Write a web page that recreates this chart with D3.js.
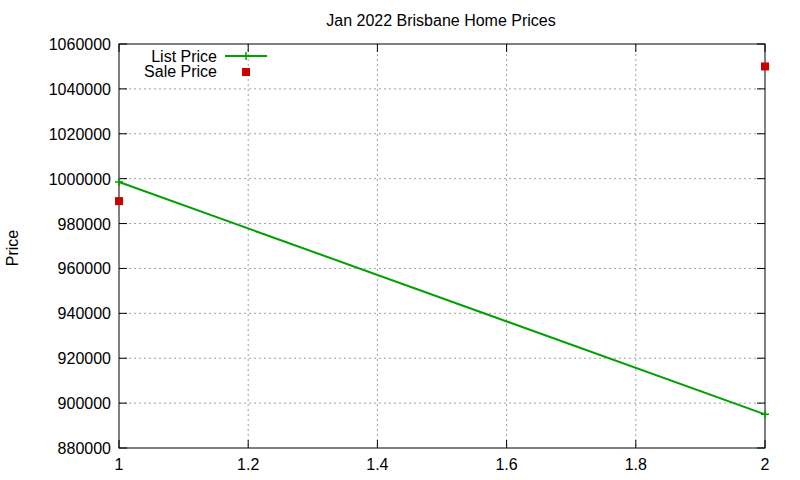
<!DOCTYPE html>
<html><head><meta charset="utf-8">
<script src="https://cdn.jsdelivr.net/npm/d3@7"></script>
<style>body{margin:0;background:#fff}text{font-family:"Liberation Sans",Arial,sans-serif;font-size:16px}</style>
</head><body><svg id="c" width="800" height="480"></svg>
<script>
const listX = [1, 2];
const listPrice = [998500, 895000];
const saleX = [1, 2];
const salePrice = [990000, 1050000];
const yTicks = [880000,900000,920000,940000,960000,980000,1000000,1020000,1040000,1060000];
const xTicks = [1,1.2,1.4,1.6,1.8,2];

const svg = d3.select("#c");
const L=119,R=765,T=44,B=448;
const x = d3.scaleLinear().domain([1,2]).range([L,R]);
const y = d3.scaleLinear().domain([880000,1060000]).range([B,T]);

const g = svg.append("g");
g.selectAll(".gx").data(xTicks.slice(1,-1)).join("line")
 .attr("x1",d=>x(d)).attr("x2",d=>x(d)).attr("y1",T).attr("y2",B)
 .attr("stroke","#a0a0a0").attr("stroke-dasharray","2,3");
g.selectAll(".gy").data(yTicks.slice(1,-1)).join("line")
 .attr("y1",d=>y(d)).attr("y2",d=>y(d)).attr("x1",L).attr("x2",R)
 .attr("stroke","#a0a0a0").attr("stroke-dasharray","2,3");
const tk=g.append("g").attr("stroke","#000");
yTicks.forEach(v=>{tk.append("line").attr("x1",L).attr("x2",L+8).attr("y1",y(v)).attr("y2",y(v));
 tk.append("line").attr("x1",R).attr("x2",R-8).attr("y1",y(v)).attr("y2",y(v));});
xTicks.forEach(v=>{tk.append("line").attr("x1",x(v)).attr("x2",x(v)).attr("y1",B).attr("y2",B-8);
 tk.append("line").attr("x1",x(v)).attr("x2",x(v)).attr("y1",T).attr("y2",T+8);});
g.append("rect").attr("x",L).attr("y",T).attr("width",R-L).attr("height",B-T).attr("fill","none").attr("stroke","#000");
g.selectAll(".yl").data(yTicks).join("text").attr("x",L-8).attr("y",d=>y(d)+6).attr("text-anchor","end").text(d=>d);
g.selectAll(".xl").data(xTicks).join("text").attr("x",d=>x(d)).attr("y",B+22).attr("text-anchor","middle").text(d=>d);
svg.append("text").attr("x",441).attr("y",26).attr("text-anchor","middle").text("Jan 2022 Brisbane Home Prices");
svg.append("text").attr("transform","translate(18,248) rotate(-90)").attr("text-anchor","middle").text("Price");
const pts = listX.map((d,i)=>[d,listPrice[i]]);
g.append("path").attr("d",d3.line().x(d=>x(d[0])).y(d=>y(d[1]))(pts)).attr("stroke","#00a000").attr("stroke-width",2).attr("fill","none");
const plus=(cx,cy)=>{g.append("path").attr("d",`M${cx-4},${cy}H${cx+4}M${cx},${cy-4}V${cy+4}`).attr("stroke","#00a000").attr("stroke-width",1.5);};
pts.forEach(p=>plus(x(p[0]),y(p[1])));
g.selectAll(".s").data(saleX.map((d,i)=>[d,salePrice[i]])).join("rect")
 .attr("x",d=>x(d[0])-4).attr("y",d=>y(d[1])-4).attr("width",8).attr("height",8).attr("fill","#cc0000");
svg.append("text").attr("x",217).attr("y",62).attr("text-anchor","end").text("List Price");
svg.append("line").attr("x1",225).attr("x2",267).attr("y1",56).attr("y2",56).attr("stroke","#00a000").attr("stroke-width",2);
plus(246,56);
svg.append("text").attr("x",217).attr("y",77).attr("text-anchor","end").text("Sale Price");
svg.append("rect").attr("x",242).attr("y",68).attr("width",8).attr("height",8).attr("fill","#cc0000");
</script></body></html>
